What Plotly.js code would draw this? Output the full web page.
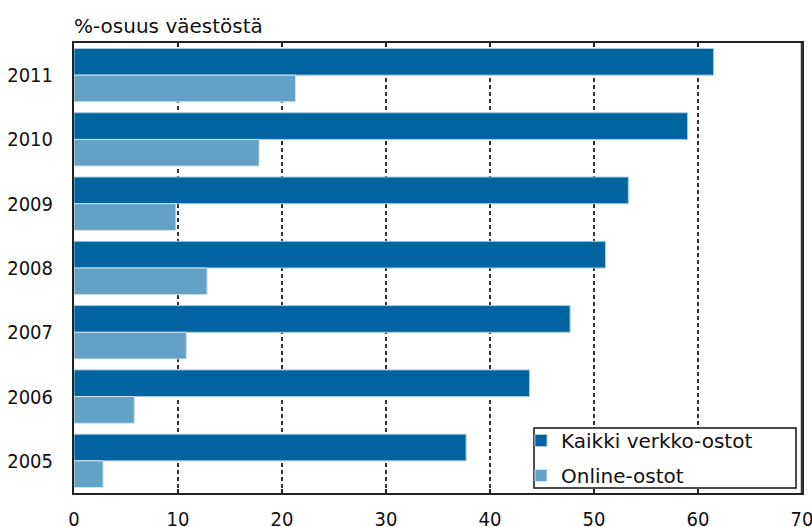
<!DOCTYPE html>
<html>
<head>
<meta charset="utf-8">
<script src="https://cdn.plot.ly/plotly-3.0.1.min.js"></script>
<style>html,body{margin:0;padding:0;background:#fff;}#chart{width:812px;height:527px;}</style>
</head>
<body>
<div id="chart"></div>
<script>
const years = ["2011", "2010", "2009", "2008", "2007", "2006", "2005"];
const kaikkiVerkko = [61.5, 59.0, 53.3, 51.1, 47.7, 43.8, 37.7];
const onlineOstot = [21.3, 17.8, 9.8, 12.8, 10.8, 5.8, 2.8];
const seriesNames = ["Kaikki verkko-ostot", "Online-ostot"];
const xTicks = [0, 10, 20, 30, 40, 50, 60, 70];
const unitLabel = "%-osuus väestöstä";

const tickFont = {family: "'DejaVu Sans Condensed', sans-serif", size: 20, color: "#111"};

const traces = [
  {
    type: "bar", orientation: "h", name: seriesNames[0],
    y: years, x: kaikkiVerkko, legendgroup: "a",
    marker: {color: "#0064a0", line: {color: "#a9cbe3", width: 1}},
    hoverinfo: "x+y"
  },
  {
    type: "bar", orientation: "h", name: seriesNames[1],
    y: years, x: onlineOstot, legendgroup: "b",
    marker: {color: "#64a1c7", line: {color: "#d2e4f0", width: 1}},
    hoverinfo: "x+y"
  }
];

const layout = {
  width: 812, height: 527,
  margin: {l: 74, r: 10, t: 43, b: 34, pad: 0},
  paper_bgcolor: "#ffffff", plot_bgcolor: "#ffffff",
  barmode: "group", bargap: 0.17, bargroupgap: 0,
  showlegend: true,
  legend: {
    x: 0.614, y: 0.16, xanchor: "left", yanchor: "top",
    bgcolor: "rgba(0,0,0,0)", borderwidth: 0,
    font: {family: "DejaVu Sans", size: 20, color: "#111"},
    traceorder: "grouped", tracegroupgap: 6,
    itemwidth: 30
  },
  xaxis: {
    range: [0, 70], tickvals: xTicks, ticktext: xTicks.map(String),
    showgrid: true, gridcolor: "#333333", gridwidth: 2, griddash: "4px,3px",
    zeroline: false,
    showline: true, linecolor: "#222", linewidth: 2, mirror: "ticks",
    ticks: "inside", ticklen: 4, tickcolor: "#222", tickwidth: 1.5,
    ticklabelstandoff: 7, ticklabeloverflow: "allow",
    tickfont: tickFont,
    fixedrange: true
  },
  yaxis: {
    type: "category", categoryorder: "array", categoryarray: years,
    autorange: "reversed",
    showgrid: false, zeroline: false,
    showline: true, linecolor: "#222", linewidth: 2, mirror: true,
    ticks: "", ticklabelstandoff: 15,
    tickfont: tickFont,
    fixedrange: true
  },
  shapes: [
    {
      type: "line", xref: "paper", yref: "paper", layer: "above",
      x0: 1, x1: 1, y0: 0, y1: 1,
      line: {color: "#333333", width: 2.5}
    },
    {
      type: "rect", xref: "paper", yref: "paper", layer: "above",
      x0: 0.6319, x1: 0.9918, y0: 0.0111, y1: 0.1444,
      fillcolor: "#ffffff", line: {color: "#111111", width: 1.5}
    }
  ],
  annotations: [
    {
      text: unitLabel, xref: "paper", yref: "paper", x: 0, y: 1,
      xanchor: "left", yanchor: "bottom", yshift: 3, xshift: -2,
      showarrow: false,
      font: {family: "DejaVu Sans", size: 20, color: "#111"}
    }
  ]
};

Plotly.newPlot("chart", traces, layout, {displayModeBar: false, staticPlot: true});
</script>
</body>
</html>
